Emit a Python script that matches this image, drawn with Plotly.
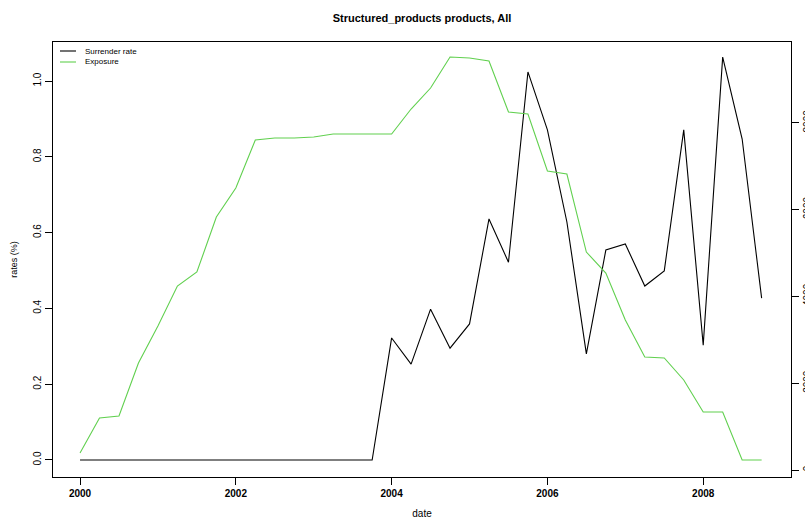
import plotly.graph_objects as go

dates = [2000 + 0.25 * i for i in range(36)]
surrender_rate = [0.0] * 16 + [
    0.322, 0.253, 0.398, 0.295, 0.359, 0.636, 0.522, 1.024,
    0.871, 0.628, 0.280, 0.554, 0.570, 0.459, 0.499, 0.871,
    0.303, 1.063, 0.847, 0.427,
]
exposure = [
    392, 1198, 1244, 2465, 3318, 4240, 4562, 5829,
    6498, 7604, 7650, 7650, 7673, 7742, 7742, 7742,
    7742, 8318, 8802, 9516, 9493, 9424, 8249, 8203,
    6889, 6820, 5023, 4539, 3456, 2604, 2581, 2074,
    1336, 1336, 230, 230,
]
series_names = ["Surrender rate", "Exposure"]
series_colors = ["black", "#61D04F"]
x_ticks = [2000, 2002, 2004, 2006, 2008]
left_ticks = [0.0, 0.2, 0.4, 0.6, 0.8, 1.0]
right_ticks = [0, 2000, 4000, 6000, 8000]

FONT = "Liberation Sans, Arial, sans-serif"
W, H = 805, 519
L, R, T, B = 53, 14, 42, 42

fig = go.Figure()
fig.add_trace(go.Scatter(x=dates, y=surrender_rate, mode="lines", name=series_names[0],
                         line=dict(color=series_colors[0], width=1.1), yaxis="y",
                         showlegend=False))
fig.add_trace(go.Scatter(x=dates, y=exposure, mode="lines", name=series_names[1],
                         line=dict(color=series_colors[1], width=1.1), yaxis="y2",
                         showlegend=False))

axis_common = dict(showline=True, linecolor="black", linewidth=1.2, ticks="outside",
                   ticklen=7, tickcolor="black", tickwidth=1, showgrid=False, zeroline=False,
                   automargin=False)

pw, ph = W - L - R, H - T - B
# legend keys (paper coordinates)
shapes = []
annotations = []
for i, (nm, col) in enumerate(zip(series_names, series_colors)):
    ypx = 51 + 11 * i
    yp = 1 - (ypx - T) / ph
    shapes.append(dict(type="line", xref="paper", yref="paper",
                       x0=(60 - L) / pw, x1=(76 - L) / pw, y0=yp, y1=yp,
                       line=dict(color=col, width=1.1)))
    annotations.append(dict(xref="paper", yref="paper", x=(83 - L) / pw, y=yp,
                            xanchor="left", yanchor="middle", text=nm, showarrow=False,
                            font=dict(family=FONT, size=8, color="black")))

fig.update_layout(
    width=W, height=H,
    margin=dict(l=L, r=R, t=T, b=B),
    paper_bgcolor="white", plot_bgcolor="white",
    font=dict(family=FONT, color="black"),
    title=dict(text="<b>Structured_products products, All</b>", x=422 / W, xanchor="center",
               y=1 - 18 / H, yanchor="middle", yref="container", pad=dict(t=0, b=0),
               font=dict(family=FONT, size=11, color="black")),
    xaxis=dict(range=[1999.653, 2009.127], tickvals=x_ticks,
               ticktext=["<b>%d</b>" % v for v in x_ticks],
               mirror=True, tickfont=dict(family=FONT, size=10, color="black"),
               title=dict(text="date", font=dict(family=FONT, size=10), standoff=12),
               **axis_common),
    yaxis=dict(range=[-0.0449, 1.103], tickvals=left_ticks,
               ticktext=["0.0", "0.2", "0.4", "0.6", "0.8", "1.0"], tickangle=-90,
               mirror=True, tickfont=dict(family=FONT, size=10, color="black"),
               title=dict(text="rates (%)", font=dict(family=FONT, size=9), standoff=12),
               **axis_common),
    yaxis2=dict(range=[-161, 9862], tickvals=right_ticks,
                ticktext=[str(v) for v in right_ticks], tickangle=-90,
                tickfont=dict(family=FONT, size=10, color="black"),
                overlaying="y", side="right", **axis_common),
    shapes=shapes,
    annotations=annotations,
    showlegend=False,
)

fig.write_html("out.html", config={"displayModeBar": False},
               post_script="document.body.style.margin='0';document.body.style.overflow='hidden';")
